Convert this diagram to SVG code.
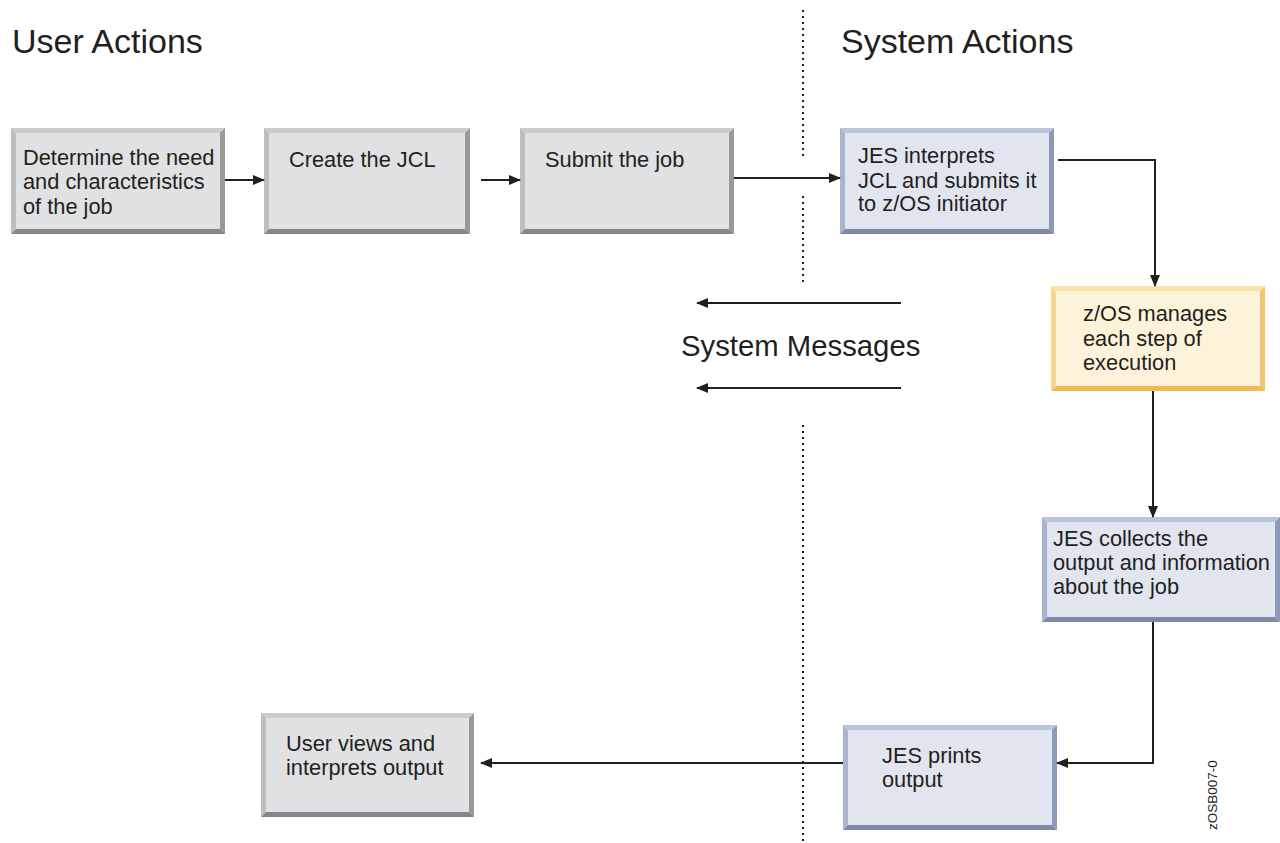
<svg xmlns="http://www.w3.org/2000/svg" width="1280" height="843" viewBox="0 0 1280 843">
<defs>
<marker id="ah" markerWidth="12" markerHeight="10" refX="11" refY="5" orient="auto" markerUnits="userSpaceOnUse">
<path d="M0,0 L12,5 L0,10 Z" fill="#231f20"/>
</marker>
<style>
text{font-family:"Liberation Sans",Arial,sans-serif;fill:#231f20}
.t{font-size:21.8px}
.h{font-size:34px}
.c{stroke:#231f20;stroke-width:2;fill:none}
.d{stroke:#231f20;stroke-width:2;stroke-dasharray:2 4;fill:none}
.gf{fill:#e0e1e3}.gt{fill:#cbcccd}.gl{fill:#bdbec0}.gr{fill:#98999b}.gb{fill:#86878a}
.bf{fill:#e1e5f0}.bt{fill:#bac6dd}.bl{fill:#a9b5ce}.br{fill:#8d99b6}.bb{fill:#7e8aa8}
.yf{fill:#fdf3da}.yt{fill:#fae2ab}.yl{fill:#f7d692}.yr{fill:#f2c671}.yb{fill:#edbb5a}
</style>
</defs>
<g id="dividers">
<line class="d" x1="803" y1="10" x2="803" y2="158"/>
<line class="d" x1="803" y1="196" x2="803" y2="282"/>
<line class="d" x1="803" y1="425" x2="803" y2="843"/>
</g>
<text class="h" x="12" y="53">User Actions</text>
<text class="h" x="841" y="53">System Actions</text>
<g id="n1">
<rect class="gf" x="11" y="128" width="214" height="106"/>
<polygon class="gt" points="11,128 225,128 220,133 16,133"/>
<polygon class="gl" points="11,128 16,133 16,229 11,234"/>
<polygon class="gr" points="225,128 225,234 220,229 220,133"/>
<polygon class="gb" points="11,234 16,229 220,229 225,234"/>
<text class="t" x="23" y="165">Determine the need</text>
<text class="t" x="23" y="189">and characteristics</text>
<text class="t" x="23" y="214">of the job</text>
</g>
<g id="n2">
<rect class="gf" x="264" y="128" width="206" height="106"/>
<polygon class="gt" points="264,128 470,128 465,133 269,133"/>
<polygon class="gl" points="264,128 269,133 269,229 264,234"/>
<polygon class="gr" points="470,128 470,234 465,229 465,133"/>
<polygon class="gb" points="264,234 269,229 465,229 470,234"/>
<text class="t" x="289" y="167">Create the JCL</text>
</g>
<g id="n3">
<rect class="gf" x="520" y="128" width="214" height="106"/>
<polygon class="gt" points="520,128 734,128 729,133 525,133"/>
<polygon class="gl" points="520,128 525,133 525,229 520,234"/>
<polygon class="gr" points="734,128 734,234 729,229 729,133"/>
<polygon class="gb" points="520,234 525,229 729,229 734,234"/>
<text class="t" x="545" y="167">Submit the job</text>
</g>
<g id="n4">
<rect class="bf" x="840" y="128" width="214" height="106"/>
<polygon class="bt" points="840,128 1054,128 1049,133 845,133"/>
<polygon class="bl" points="840,128 845,133 845,229 840,234"/>
<polygon class="br" points="1054,128 1054,234 1049,229 1049,133"/>
<polygon class="bb" points="840,234 845,229 1049,229 1054,234"/>
<text class="t" x="858" y="163">JES interprets</text>
<text class="t" x="858" y="188">JCL and submits it</text>
<text class="t" x="858" y="211">to z/OS initiator</text>
</g>
<g id="n5">
<rect class="yf" x="1051" y="286" width="214" height="105"/>
<polygon class="yt" points="1051,286 1265,286 1260,291 1056,291"/>
<polygon class="yl" points="1051,286 1056,291 1056,386 1051,391"/>
<polygon class="yr" points="1265,286 1265,391 1260,386 1260,291"/>
<polygon class="yb" points="1051,391 1056,386 1260,386 1265,391"/>
<text class="t" x="1083" y="321">z/OS manages</text>
<text class="t" x="1083" y="346">each step of</text>
<text class="t" x="1083" y="370">execution</text>
</g>
<g id="n6">
<rect class="bf" x="1042" y="517" width="238" height="105"/>
<polygon class="bt" points="1042,517 1280,517 1275,522 1047,522"/>
<polygon class="bl" points="1042,517 1047,522 1047,617 1042,622"/>
<polygon class="br" points="1280,517 1280,622 1275,617 1275,522"/>
<polygon class="bb" points="1042,622 1047,617 1275,617 1280,622"/>
<text class="t" x="1053" y="546">JES collects the</text>
<text class="t" x="1053" y="570">output and information</text>
<text class="t" x="1053" y="594">about the job</text>
</g>
<g id="n7">
<rect class="bf" x="843" y="725" width="214" height="105"/>
<polygon class="bt" points="843,725 1057,725 1052,730 848,730"/>
<polygon class="bl" points="843,725 848,730 848,825 843,830"/>
<polygon class="br" points="1057,725 1057,830 1052,825 1052,730"/>
<polygon class="bb" points="843,830 848,825 1052,825 1057,830"/>
<text class="t" x="882" y="763">JES prints</text>
<text class="t" x="882" y="787">output</text>
</g>
<g id="n8">
<rect class="gf" x="261" y="713" width="213" height="104"/>
<polygon class="gt" points="261,713 474,713 469,718 266,718"/>
<polygon class="gl" points="261,713 266,718 266,812 261,817"/>
<polygon class="gr" points="474,713 474,817 469,812 469,718"/>
<polygon class="gb" points="261,817 266,812 469,812 474,817"/>
<text class="t" x="286" y="751">User views and</text>
<text class="t" x="286" y="775">interprets output</text>
</g>
<g id="connectors">
<line class="c" x1="225" y1="180" x2="264" y2="180" marker-end="url(#ah)"/>
<line class="c" x1="481" y1="180" x2="520" y2="180" marker-end="url(#ah)"/>
<line class="c" x1="734" y1="178" x2="840" y2="178" marker-end="url(#ah)"/>
<polyline class="c" points="1058,160 1155,160 1155,286" marker-end="url(#ah)"/>
<line class="c" x1="1153" y1="391" x2="1153" y2="517" marker-end="url(#ah)"/>
<polyline class="c" points="1153,622 1153,763 1057,763" marker-end="url(#ah)"/>
<line class="c" x1="843" y1="763" x2="481" y2="763" marker-end="url(#ah)"/>
<line class="c" x1="901" y1="303" x2="697" y2="303" marker-end="url(#ah)"/>
<line class="c" x1="901" y1="388" x2="697" y2="388" marker-end="url(#ah)"/>
</g>
<text x="681" y="356" style="font-size:29.3px">System Messages</text>
<text transform="translate(1217,830) rotate(-90)" style="font-size:13.5px">zOSB007-0</text>
</svg>
